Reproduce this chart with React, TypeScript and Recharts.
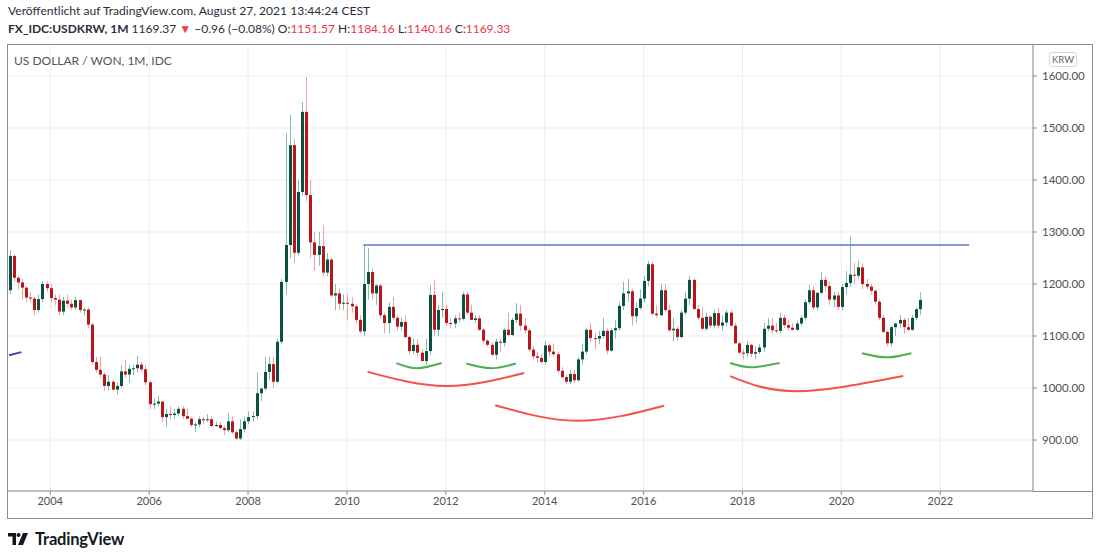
import { ComposedChart, Bar, Line, XAxis, YAxis, CartesianGrid, ReferenceLine } from 'recharts';

type Candle = [number, number, number, number]; // open, high, low, close
type ArcPoint = [string, number];

// monthly USD/KRW candles
const c2003: Candle[] = [
  [1188, 1265, 1180, 1254], [1254, 1257, 1205, 1212], [1212, 1215, 1190, 1203], [1203, 1210, 1170, 1193],
  [1193, 1196, 1165, 1174], [1174, 1185, 1165, 1172], [1172, 1175, 1140, 1150], [1150, 1180, 1145, 1171],
  [1171, 1205, 1165, 1200], [1200, 1205, 1185, 1192]
];
const c2004: Candle[] = [
  [1192, 1200, 1165, 1173], [1173, 1180, 1160, 1170], [1170, 1180, 1140, 1147], [1147, 1175, 1140, 1168],
  [1168, 1180, 1155, 1162], [1162, 1170, 1150, 1155], [1155, 1175, 1150, 1169], [1169, 1170, 1145, 1150],
  [1150, 1155, 1140, 1151], [1151, 1155, 1115, 1122], [1122, 1125, 1045, 1050], [1050, 1060, 1030, 1035]
];
const c2005: Candle[] = [
  [1035, 1060, 1020, 1026], [1026, 1030, 995, 1004], [1004, 1025, 995, 1012], [1012, 1015, 995, 997],
  [997, 1010, 987, 1004], [1004, 1045, 1000, 1032], [1032, 1055, 1020, 1026], [1026, 1045, 1010, 1037],
  [1037, 1045, 1025, 1038], [1038, 1062, 1030, 1045], [1045, 1050, 1030, 1036], [1036, 1045, 1005, 1011]
];
const c2006: Candle[] = [
  [1011, 1015, 960, 969], [969, 980, 960, 970], [970, 985, 965, 974], [974, 975, 935, 944],
  [944, 960, 925, 950], [950, 965, 940, 948], [948, 960, 940, 951], [951, 965, 945, 960],
  [960, 965, 940, 946], [946, 960, 940, 941], [941, 945, 925, 929], [929, 935, 915, 930]
];
const c2007: Candle[] = [
  [930, 945, 925, 940], [940, 945, 930, 939], [939, 950, 935, 940], [940, 945, 925, 927],
  [927, 935, 925, 929], [929, 935, 920, 923], [923, 928, 910, 919], [919, 952, 915, 936],
  [936, 945, 912, 915], [915, 920, 900, 903], [903, 940, 900, 921], [921, 945, 915, 936]
];
const c2008: Candle[] = [
  [936, 955, 930, 944], [944, 955, 935, 946], [946, 1030, 940, 990], [990, 1000, 975, 999],
  [999, 1060, 995, 1031], [1031, 1060, 1015, 1046], [1046, 1060, 1000, 1012], [1012, 1095, 1010, 1089],
  [1089, 1210, 1085, 1204], [1204, 1490, 1180, 1275], [1275, 1525, 1250, 1467], [1467, 1480, 1240, 1260]
];
const c2009: Candle[] = [
  [1260, 1400, 1255, 1377], [1377, 1550, 1370, 1531], [1531, 1598, 1360, 1371], [1371, 1400, 1250, 1280],
  [1280, 1300, 1225, 1256], [1256, 1300, 1235, 1273], [1273, 1313, 1215, 1222], [1222, 1260, 1215, 1247],
  [1247, 1250, 1175, 1178], [1178, 1200, 1150, 1182], [1182, 1190, 1150, 1162], [1162, 1180, 1150, 1164]
];
const c2010: Candle[] = [
  [1164, 1180, 1130, 1162], [1162, 1175, 1145, 1157], [1157, 1160, 1125, 1131], [1131, 1140, 1105, 1109],
  [1109, 1277, 1100, 1200], [1200, 1269, 1170, 1223], [1223, 1230, 1170, 1182], [1182, 1200, 1160, 1197],
  [1197, 1200, 1135, 1140], [1140, 1145, 1105, 1125], [1125, 1165, 1105, 1156], [1156, 1175, 1130, 1135]
];
const c2011: Candle[] = [
  [1135, 1140, 1110, 1118], [1118, 1135, 1110, 1127], [1127, 1140, 1095, 1098], [1098, 1100, 1065, 1071],
  [1071, 1095, 1065, 1083], [1083, 1095, 1060, 1068], [1068, 1075, 1050, 1052], [1052, 1095, 1045, 1071],
  [1071, 1198, 1065, 1179], [1179, 1208, 1100, 1112], [1112, 1160, 1100, 1150], [1150, 1185, 1135, 1152]
];
const c2012: Candle[] = [
  [1152, 1160, 1120, 1125], [1125, 1135, 1115, 1124], [1124, 1140, 1115, 1134], [1134, 1145, 1125, 1133],
  [1133, 1185, 1130, 1180], [1180, 1185, 1140, 1145], [1145, 1160, 1130, 1131], [1131, 1140, 1125, 1134],
  [1134, 1140, 1110, 1112], [1112, 1115, 1085, 1091], [1091, 1095, 1080, 1083], [1083, 1088, 1062, 1064]
];
const c2013: Candle[] = [
  [1064, 1095, 1055, 1089], [1089, 1095, 1070, 1087], [1087, 1115, 1080, 1112], [1112, 1145, 1100, 1102],
  [1102, 1135, 1100, 1131], [1131, 1163, 1125, 1143], [1143, 1160, 1110, 1120], [1120, 1135, 1105, 1111],
  [1111, 1115, 1070, 1074], [1074, 1080, 1055, 1061], [1061, 1070, 1050, 1058], [1058, 1065, 1048, 1050]
];
const c2014: Candle[] = [
  [1050, 1090, 1045, 1082], [1082, 1085, 1060, 1070], [1070, 1085, 1060, 1065], [1065, 1070, 1030, 1033],
  [1033, 1040, 1018, 1021], [1021, 1025, 1008, 1012], [1012, 1035, 1008, 1027], [1027, 1035, 1010, 1015],
  [1015, 1060, 1012, 1055], [1055, 1085, 1045, 1070], [1070, 1115, 1065, 1112], [1112, 1125, 1088, 1096]
];
const c2015: Candle[] = [
  [1096, 1105, 1075, 1095], [1095, 1110, 1085, 1100], [1100, 1135, 1095, 1110], [1110, 1115, 1065, 1072],
  [1072, 1115, 1070, 1111], [1111, 1130, 1095, 1115], [1115, 1165, 1110, 1158], [1158, 1204, 1150, 1182],
  [1182, 1210, 1165, 1186], [1186, 1190, 1120, 1138], [1138, 1165, 1125, 1154], [1154, 1190, 1150, 1172]
];
const c2016: Candle[] = [
  [1172, 1215, 1165, 1206], [1206, 1244, 1195, 1238], [1238, 1242, 1140, 1143], [1143, 1160, 1135, 1140],
  [1140, 1200, 1138, 1188], [1188, 1200, 1145, 1150], [1150, 1160, 1108, 1111], [1111, 1135, 1090, 1114],
  [1114, 1118, 1090, 1098], [1098, 1150, 1095, 1145], [1145, 1185, 1140, 1172], [1172, 1215, 1160, 1208]
];
const c2017: Candle[] = [
  [1208, 1210, 1150, 1152], [1152, 1160, 1130, 1135], [1135, 1155, 1110, 1114], [1114, 1145, 1110, 1137],
  [1137, 1140, 1115, 1120], [1120, 1150, 1115, 1144], [1144, 1155, 1115, 1120], [1120, 1140, 1110, 1126],
  [1126, 1150, 1120, 1145], [1145, 1150, 1118, 1120], [1120, 1125, 1085, 1086], [1086, 1090, 1065, 1068]
];
const c2018: Candle[] = [
  [1068, 1075, 1055, 1067], [1067, 1090, 1060, 1083], [1083, 1085, 1060, 1066], [1066, 1080, 1055, 1069],
  [1069, 1085, 1065, 1078], [1078, 1125, 1070, 1114], [1114, 1135, 1110, 1120], [1120, 1135, 1105, 1111],
  [1111, 1125, 1105, 1110], [1110, 1145, 1105, 1135], [1135, 1140, 1115, 1121], [1121, 1130, 1110, 1116]
];
const c2019: Candle[] = [
  [1116, 1125, 1110, 1112], [1112, 1130, 1110, 1124], [1124, 1140, 1120, 1135], [1135, 1170, 1130, 1165],
  [1165, 1198, 1160, 1188], [1188, 1195, 1150, 1155], [1155, 1185, 1150, 1183], [1183, 1223, 1180, 1208],
  [1208, 1215, 1185, 1196], [1196, 1205, 1160, 1170], [1170, 1185, 1155, 1178], [1178, 1185, 1150, 1156]
];
const c2020: Candle[] = [
  [1156, 1200, 1150, 1194], [1194, 1225, 1180, 1202], [1202, 1292, 1195, 1218], [1218, 1240, 1200, 1216],
  [1216, 1245, 1210, 1232], [1232, 1240, 1190, 1200], [1200, 1210, 1190, 1195], [1195, 1200, 1180, 1187],
  [1187, 1190, 1160, 1166], [1166, 1170, 1130, 1135], [1135, 1140, 1105, 1108], [1108, 1110, 1080, 1086]
];
const c2021: Candle[] = [
  [1086, 1120, 1080, 1117], [1117, 1125, 1100, 1124], [1124, 1140, 1115, 1131], [1131, 1135, 1105, 1117],
  [1117, 1135, 1110, 1112], [1112, 1140, 1110, 1135], [1135, 1155, 1130, 1151.57], [1151.57, 1184.16, 1140.16, 1169.33]
];

// hand-drawn annotations, in (month, price)
const redArc1: ArcPoint[] = [['2010-06', 1031], ['2012-01', 1004], ['2013-08', 1029]];
const redArc2: ArcPoint[] = [['2013-01', 967], ['2014-09', 937], ['2016-06', 966]];
const redArc3: ArcPoint[] = [['2017-10', 1023], ['2019-02', 994], ['2021-04', 1023]];
const greenArc1: ArcPoint[] = [['2011-01', 1048], ['2011-06', 1038], ['2011-12', 1048]];
const greenArc2: ArcPoint[] = [['2012-06', 1047], ['2012-12', 1038], ['2013-06', 1047]];
const greenArc3: ArcPoint[] = [['2017-10', 1048], ['2018-03', 1040], ['2018-10', 1048]];
const greenArc4: ArcPoint[] = [['2020-06', 1067], ['2020-12', 1059], ['2021-06', 1067]];
const resistance = { from: '2010-05', to: '2022-08', price: 1275 };
const oldTrend = { from: '2003-03', to: '2003-06', fromPrice: 1063, toPrice: 1069 };

const FIRST_YEAR = 2003;
const FIRST_MONTH = 3;
const MONTH_COUNT = 249;
const yearTicks = ['2004', '2006', '2008', '2010', '2012', '2014', '2016', '2018', '2020', '2022'];
const priceTicks = [900, 1000, 1100, 1200, 1300, 1400, 1500, 1600];

const UP_BODY = '#0b5040';
const UP_WICK = '#82c0ae';
const DOWN_BODY = '#b8161c';
const DOWN_WICK = '#f2a0a0';
const ARC_RED = '#f4514a';
const ARC_GREEN = '#4cb050';
const FRAME = '#8c8c8c';
const FONT = 'Lato, "Open Sans", sans-serif';

document.body.style.margin = '0';

const candles: Candle[] = [
  ...c2003, ...c2004, ...c2005, ...c2006, ...c2007, ...c2008, ...c2009, ...c2010, ...c2011, ...c2012,
  ...c2013, ...c2014, ...c2015, ...c2016, ...c2017, ...c2018, ...c2019, ...c2020, ...c2021
];

const arcs = [
  { name: 'redArc1', color: ARC_RED, points: redArc1 },
  { name: 'redArc2', color: ARC_RED, points: redArc2 },
  { name: 'redArc3', color: ARC_RED, points: redArc3 },
  { name: 'greenArc1', color: ARC_GREEN, points: greenArc1 },
  { name: 'greenArc2', color: ARC_GREEN, points: greenArc2 },
  { name: 'greenArc3', color: ARC_GREEN, points: greenArc3 },
  { name: 'greenArc4', color: ARC_GREEN, points: greenArc4 }
];

const monthKeys = Array.from({ length: MONTH_COUNT }, (_, i) => {
  const m = FIRST_MONTH - 1 + i;
  return `${FIRST_YEAR + Math.floor(m / 12)}-${String((m % 12) + 1).padStart(2, '0')}`;
});

const data = monthKeys.map((key, i) => {
  const row: Record<string, unknown> = { key };
  const candle = candles[i];
  if (candle) {
    const [o, h, l, c] = candle;
    Object.assign(row, { o, h, l, c, range: [l, h] });
  }
  arcs.forEach((arc) => {
    const point = arc.points.find((p) => p[0] === key);
    if (point) row[arc.name] = point[1];
  });
  return row;
});

const CandleShape = (props: any) => {
  const { x, y, width, height, payload } = props;
  if (!payload || payload.o == null) return null;
  const { o, h, l, c } = payload;
  const top = Math.min(y, y + height);
  const span = Math.abs(height);
  const toY = (v: number) => top + ((h - v) / (h - l)) * span;
  const up = c >= o;
  const cx = Math.round(x + width / 2) + 0.5;
  const bodyTop = toY(Math.max(o, c));
  const bodyHeight = Math.max(1, toY(Math.min(o, c)) - bodyTop);
  return (
    <g>
      <line x1={cx} x2={cx} y1={top} y2={top + span} stroke={up ? UP_WICK : DOWN_WICK} strokeWidth={1} />
      <rect x={cx - 1.5} y={bodyTop} width={3} height={bodyHeight} fill={up ? UP_BODY : DOWN_BODY} />
    </g>
  );
};

const red = '#f23645';

const App = () => (
  <div style={{ position: 'relative', width: 1100, height: 556, background: '#fff', fontFamily: FONT, color: '#2a2e39' }}>
    <div style={{ position: 'absolute', left: 8, top: 3, fontSize: 12.1, whiteSpace: 'nowrap' }}>
      Veröffentlicht auf TradingView.com, August 27, 2021 13:44:24 CEST
    </div>
    <div style={{ position: 'absolute', left: 8, top: 21, fontSize: 12, whiteSpace: 'nowrap' }}>
      <b>FX_IDC:USDKRW, 1M</b> 1169.37 <span style={{ color: red }}>▼</span> −0.96 (−0.08%) O:
      <span style={{ color: red }}>1151.57</span> H:<span style={{ color: red }}>1184.16</span> L:
      <span style={{ color: red }}>1140.16</span> C:<span style={{ color: red }}>1169.33</span>
    </div>

    <div style={{ position: 'absolute', left: 7, top: 44 }}>
      <ComposedChart width={1086} height={475} data={data} margin={{ top: 0, right: 0, bottom: 0, left: 0 }}>
        <CartesianGrid stroke="#ededed" />
        <XAxis
          dataKey="key"
          ticks={yearTicks.map((y) => `${y}-01`)}
          interval={0}
          tickFormatter={(k: string) => k.slice(0, 4)}
          height={28}
          tickSize={4}
          axisLine={{ stroke: FRAME }}
          tickLine={{ stroke: FRAME }}
          tick={{ fill: '#505050', fontSize: 11, fontFamily: FONT }}
        />
        <YAxis
          orientation="right"
          type="number"
          domain={[802, 1661.5]}
          allowDataOverflow
          ticks={priceTicks}
          tickFormatter={(v: number) => v.toFixed(2)}
          width={60}
          tickSize={4}
          axisLine={{ stroke: FRAME }}
          tickLine={{ stroke: FRAME }}
          tick={{ fill: '#505050', fontSize: 11.5, fontFamily: FONT, dx: 3 }}
        />
        <Bar dataKey="range" shape={CandleShape} barSize={3} isAnimationActive={false} />
        {arcs.map((arc) => (
          <Line
            key={arc.name}
            dataKey={arc.name}
            type="natural"
            stroke={arc.color}
            strokeWidth={2}
            dot={false}
            activeDot={false}
            connectNulls
            isAnimationActive={false}
          />
        ))}
        <ReferenceLine
          segment={[{ x: resistance.from, y: resistance.price }, { x: resistance.to, y: resistance.price }]}
          stroke="#5b7bc4"
          strokeWidth={1.5}
        />
        <ReferenceLine
          segment={[{ x: oldTrend.from, y: oldTrend.fromPrice }, { x: oldTrend.to, y: oldTrend.toPrice }]}
          stroke="#3c4aa6"
          strokeWidth={2}
        />
      </ComposedChart>
    </div>

    <div style={{ position: 'absolute', left: 7, top: 44, width: 1086, height: 475, border: `1px solid ${FRAME}`, boxSizing: 'border-box', pointerEvents: 'none' }} />
    <div style={{ position: 'absolute', left: 1033, top: 491, width: 60, borderTop: `1px solid ${FRAME}` }} />
    <div style={{ position: 'absolute', left: 14, top: 53, fontSize: 12, color: '#555', whiteSpace: 'nowrap' }}>
      US DOLLAR / WON, 1M, IDC
    </div>
    <div style={{ position: 'absolute', left: 1049, top: 52, width: 28, height: 15, border: '1px solid #d6d6d6', borderRadius: 3, boxSizing: 'border-box', fontSize: 9.5, color: '#666', textAlign: 'center', lineHeight: '13px' }}>
      KRW
    </div>

    <div style={{ position: 'absolute', left: 8, top: 529, display: 'flex', alignItems: 'center', gap: 5 }}>
      <svg width={22} height={12} viewBox="0 0 22 12">
        <path d="M0 0h8v12H4.5V3.5H0z" fill="#131722" />
        <circle cx={10.5} cy={2} r={2} fill="#131722" />
        <path d="M15 0h5l-5 12h-5z" fill="#131722" />
      </svg>
      <span style={{ fontSize: 16.5, fontWeight: 700, color: '#131722', letterSpacing: -0.2 }}>TradingView</span>
    </div>
  </div>
);

export default App;
